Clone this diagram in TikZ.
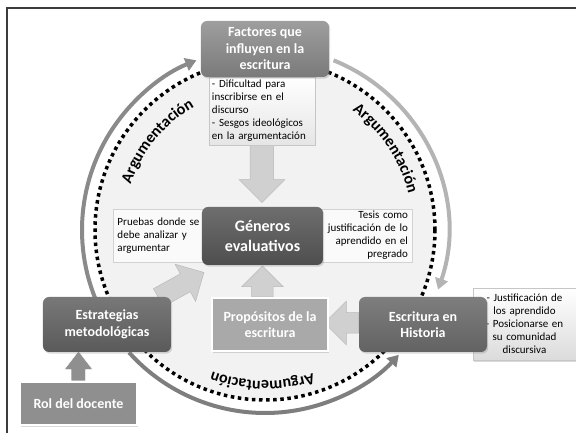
\documentclass[tikz,border=0pt]{standalone}
\usepackage{fontspec}
\setmainfont{Carlito}
\usetikzlibrary{calc,arrows.meta,shapes.arrows,shadows,decorations.text}

\definecolor{ringleft}{HTML}{8A8A8A}
\definecolor{ringright}{HTML}{B4B4B4}
\definecolor{ringbottom}{HTML}{7E7E7E}
\definecolor{innerfill}{HTML}{F2F2F2}
\definecolor{arrowfill}{HTML}{D0D0D0}
\definecolor{framegray}{HTML}{3C3C3C}
\definecolor{facttop}{HTML}{9E9E9E}
\definecolor{factbot}{HTML}{7A7A7A}
\definecolor{gentop}{HTML}{6E6E6E}
\definecolor{genbot}{HTML}{4E4E4E}
\definecolor{estrtop}{HTML}{787878}
\definecolor{estrbot}{HTML}{5A5A5A}
\definecolor{histtop}{HTML}{7E7E7E}
\definecolor{histbot}{HTML}{626262}
\definecolor{propfill}{HTML}{A9A9A9}
\definecolor{rolfill}{HTML}{8F8F8F}

\pgfdeclarelayer{bg}
\pgfsetlayers{bg,main}

\tikzstyle{every node}=[font=\fontsize{11}{13}\selectfont]
\tikzstyle{boxshadow}=[drop shadow={opacity=0.3,shadow xshift=1.2pt,shadow yshift=-1.6pt}]
\tikzstyle{titlebox}=[boxshadow, rounded corners=6pt, text=white, align=center,
  inner sep=2pt, font=\bfseries\fontsize{14}{16.5}\selectfont]
\tikzstyle{flatbox}=[boxshadow, draw=white, line width=1.5pt, text=white, align=center,
  inner sep=2pt, font=\bfseries\fontsize{14}{16.5}\selectfont]
\tikzstyle{notebox}=[draw=gray!45, line width=0.5pt, top color=white, bottom color=gray!20,
  inner xsep=3pt, inner ysep=1pt]
\tikzstyle{sidebox}=[draw=gray!35, line width=0.5pt, fill=white!96!gray,
  inner xsep=3pt, inner ysep=1pt]
\tikzstyle{bigarrow}=[single arrow, fill=arrowfill, draw=gray!55, line width=0.5pt,
  inner xsep=0pt, single arrow head indent=0pt, anchor=tail]
\tikzstyle{ring}=[line width=4pt, -{Triangle[length=11pt,width=13pt]}]
\tikzstyle{arglabel}=[decorate, decoration={text along path, text align={center},
  text={|\bfseries\fontsize{16}{16}\selectfont|Argumentación}}]

\begin{document}
\begin{tikzpicture}[x=1pt,y=1pt]
    \useasboundingbox (-265,-203) rectangle (311,230);

    % frame
    \draw[framegray, line width=1.2pt] (311,222) -- (-258,222) -- (-258,-203);

    % cycle with the three arguments
    \begin{pgfonlayer}{bg}
    \draw[fill=innerfill, line width=3.5pt, dash pattern=on 3.5pt off 3.6pt]
        (0,0) circle[radius=170pt];
    \draw[ring, ringleft] (205:183pt) arc[start angle=205, end angle=112, radius=183pt];
    \draw[ring, ringright] (68:183pt) arc[start angle=68, end angle=-19, radius=183pt];
    \draw[ring, ringbottom] (222:183pt) arc[start angle=222, end angle=317, radius=183pt];
    \path[arglabel] (170.5:142pt) arc[start angle=170.5, end angle=110.5, radius=142pt];
    \path[arglabel] (64:148pt) arc[start angle=64, end angle=4, radius=148pt];
    \path[arglabel] (299:151pt) arc[start angle=299, end angle=239, radius=151pt];
    \end{pgfonlayer}

    % top
    \node[notebox, minimum width=106pt, minimum height=68pt, text width=100pt, align=left]
        (factdet) at (-3,119)
        {- Dificultad para\\inscribirse en el\\discurso\\- Sesgos ideológicos\\en la argumentación};
    \node[titlebox, top color=facttop, bottom color=factbot,
        minimum width=128pt, minimum height=56pt]
        (fact) at (0,181) {Factores que\\influyen en la\\escritura};

    % centre
    \node[sidebox, minimum width=95pt, minimum height=53pt, text width=86pt, align=left]
        (prueb) at (-104.5,-5.5) {Pruebas donde se\\debe analizar y\\argumentar};
    \node[sidebox, minimum width=94pt, minimum height=53pt, text width=86pt, align=right]
        (tesis) at (100,-5.5) {Tesis como\\justificación de lo\\aprendido en el\\pregrado};
    \node[titlebox, top color=gentop, bottom color=genbot,
        minimum width=121pt, minimum height=58pt, font=\bfseries\fontsize{16}{20}\selectfont]
        (gen) at (-2.5,-6) {Géneros\\evaluativos};

    % bottom row
    \node[titlebox, top color=estrtop, bottom color=estrbot,
        minimum width=128pt, minimum height=55pt]
        (estr) at (-158,-94.5) {Estrategias\\metodológicas};
    \node[flatbox, fill=propfill, minimum width=116pt, minimum height=53pt]
        (prop) at (5,-94.5) {Propósitos de la\\escritura};
    \node[notebox, boxshadow, minimum width=101pt, minimum height=72pt, text width=97pt,
        align=center, bottom color=gray!28]
        (histdet) at (259.5,-94)
        {- Justificación de\\los aprendido\\- Posicionarse en\\su comunidad\\discursiva};
    \node[titlebox, top color=histtop, bottom color=histbot,
        minimum width=128pt, minimum height=55pt]
        (hist) at (158,-94.5) {Escritura en\\Historia};
    \node[flatbox, fill=rolfill, minimum width=117pt, minimum height=43pt]
        (rol) at (-186.5,-173.5) {Rol del docente};

    % block arrows
    \begin{pgfonlayer}{bg}
    \node[bigarrow, rotate=-90, minimum height=57pt, inner ysep=11.5pt,
        single arrow head extend=11pt] (downarr) at (factdet.south) {};
    \node[bigarrow, rotate=90, minimum height=31pt, inner ysep=10.5pt,
        single arrow head extend=10pt] (uparr) at ([xshift=-7.5pt]prop.north) {};
    \node[bigarrow, rotate=180, minimum height=34pt, inner ysep=10pt,
        single arrow head extend=11.5pt] (leftarr) at ([yshift=1.5pt]hist.west) {};
    \node[bigarrow, rotate=29, minimum height=52pt, inner ysep=10pt,
        single arrow head extend=11pt] (diagarr) at ($(estr.north east)+(-13,-1)$) {};
    \node[bigarrow, fill=rolfill, draw=white, rotate=90, minimum height=30pt,
        inner ysep=7pt, single arrow head extend=7pt, single arrow tip angle=75]
        (rolarr) at (rol.north) {};
    \end{pgfonlayer}
\end{tikzpicture}
\end{document}
